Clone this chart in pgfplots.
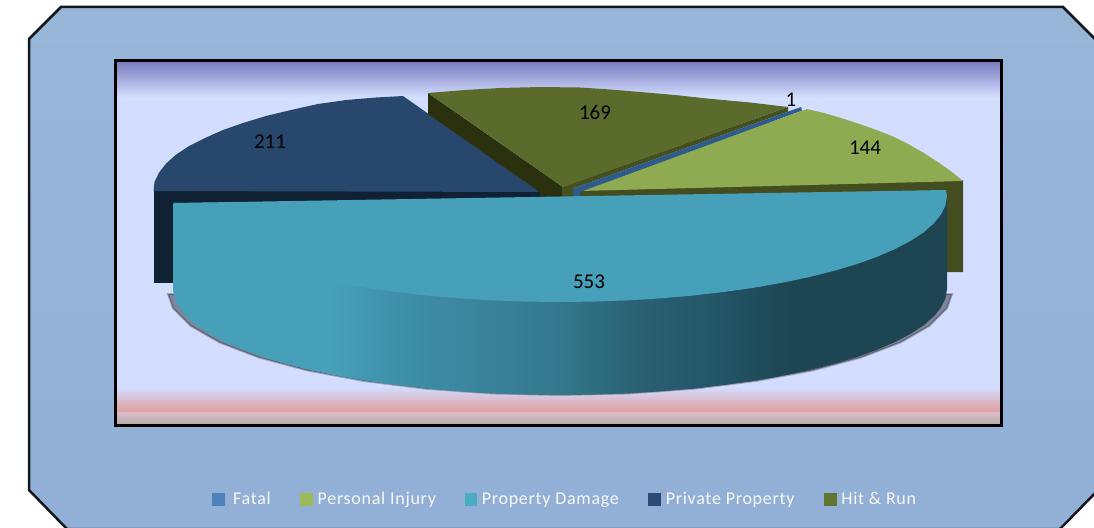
\documentclass[border=0pt]{standalone}
\usepackage{pgfplots}
\pgfplotsset{compat=1.18}
\usepackage{fontspec}
\setmainfont{Carlito}
\newfontfamily\legfont[LetterSpace=4.0]{Carlito}
\definecolor{Panel}{HTML}{95B3D7}
\definecolor{PanelTop}{HTML}{98B6D8}
\definecolor{PanelBot}{HTML}{92AFD6}
\definecolor{Edge}{HTML}{15171F}
\definecolor{Plot}{HTML}{D3DDFF}
\definecolor{PlotTop}{HTML}{7B7CBD}
\definecolor{Red}{HTML}{DF9D9B}
\definecolor{Pink}{HTML}{DBBBCB}
\definecolor{Stone}{HTML}{B0AEA4}
\definecolor{TealTop}{HTML}{47A0B9}
\definecolor{NavyTop}{HTML}{27476D}
\definecolor{NavyWall}{HTML}{0F2133}
\definecolor{OliveTop}{HTML}{5A6B2C}
\definecolor{OliveDark}{HTML}{2B300F}
\definecolor{OliveWall}{HTML}{45501F}
\definecolor{GreenTop}{HTML}{8FAB52}
\definecolor{GreenWall}{HTML}{434D20}
\definecolor{BlueTop}{HTML}{2F5A8C}
\definecolor{W1}{RGB}{62,143,168}
\definecolor{W2}{RGB}{58,132,155}
\definecolor{W3}{RGB}{51,120,140}
\definecolor{W4}{RGB}{42,96,114}
\definecolor{W5}{RGB}{35,85,102}
\definecolor{W6}{RGB}{30,69,82}
\definecolor{W7}{RGB}{29,68,80}
\definecolor{LegFatal}{HTML}{4F81BD}
\definecolor{LegInjury}{HTML}{9BBB59}
\definecolor{LegDamage}{HTML}{4BACC6}
\definecolor{LegPrivate}{HTML}{2A4A75}
\definecolor{LegHit}{HTML}{5F7530}
\pgfdeclarehorizontalshading{wall}{100bp}{
  color(0bp)=(TealTop); color(35bp)=(TealTop);
  color(39.7bp)=(W1); color(44.8bp)=(W2); color(50bp)=(W3);
  color(55.2bp)=(W4); color(60.3bp)=(W5); color(64.9bp)=(W6);
  color(100bp)=(W7)}
\begin{document}
\begin{tikzpicture}
\begin{axis}[
  scale only axis, width=1094pt, height=527pt,
  xmin=0, xmax=1094, ymin=0, ymax=527, y dir=reverse,
  hide axis, no markers,
  legend columns=5,
  legend style={draw=none, fill=none, at={(axis cs:212,501)}, anchor=west,
    inner sep=0pt, font=\legfont\fontsize{18}{20}\selectfont, text=white!92!Panel,
    nodes={inner xsep=5pt, inner ysep=0pt, anchor=base west, text height=11pt, text depth=4pt},
    /tikz/every even column/.append style={column sep=24.5pt}},
  ]
  % page and panel
  \addplot[forget plot, fill=white, draw=none] coordinates {(0,0) (1094,0) (1094,527) (0,527)} --cycle;
  \addplot[forget plot, top color=PanelTop, bottom color=PanelBot, draw=Edge, line width=2.5pt]
    coordinates {(61,7) (1063,7) (1102,46) (1102,486) (1060,529) (67,529) (29,490) (29,39)} --cycle;
  % plot area
  \addplot[forget plot, fill=Plot, draw=none] coordinates {(115,61) (1002,61) (1002,426) (115,426)} --cycle;
  \addplot[forget plot, top color=PlotTop, bottom color=Plot, draw=none]
    coordinates {(115,62) (1002,62) (1002,97) (115,97)} --cycle;
  \addplot[forget plot, top color=Plot, bottom color=Red, draw=none]
    coordinates {(115,387) (1002,387) (1002,412.5) (115,412.5)} --cycle;
  \addplot[forget plot, top color=Pink, bottom color=Stone, draw=none]
    coordinates {(115,412.5) (1002,412.5) (1002,425) (115,425)} --cycle;
  \addplot[forget plot, draw=black, line width=3pt] coordinates {(115.2,61) (1001.5,61) (1001.5,425.5) (115.2,425.5)} --cycle;

  % back walls
  \addplot[forget plot, fill=NavyWall, draw=none] coordinates {(153.5,190) (541,190) (541,283) (153.5,283)} --cycle;
  \addplot[forget plot, fill=GreenWall, draw=none] coordinates {(578,190) (963,180) (963,272) (578,272)} --cycle;

  % navy top
  \addplot[forget plot, fill=NavyTop, draw=none] coordinates {
    (153.5,191) (154.5,182) (159,172.6) (166,163.6) (176,154.7) (189,146) (205,138)
    (223,130) (243,123) (266,116) (291,110) (318,104) (346,100) (376,97.5) (403,96)
    (539.5,192)} --cycle;
  % olive walls and top
  \addplot[forget plot, fill=OliveDark, draw=none] coordinates {(428,93) (563,187) (563,200) (540,200) (540,192.5) (428,114)} --cycle;
  \addplot[forget plot, fill=OliveWall, draw=none] coordinates {(788,107) (788,111.6) (573,188.5) (573,200) (562,200) (562,187)} --cycle;
  \addplot[forget plot, fill=OliveTop, draw=none] coordinates {
    (428,93) (465,90) (500,88) (540,87) (580,87.5) (610,89.5) (640,92) (675,95)
    (707,98.5) (750,102.5) (788,107) (563,187)} --cycle;
  % green top
  \addplot[forget plot, fill=GreenTop, draw=none] coordinates {
    (579.5,191) (807,109) (824,113) (841,118) (858,123.5) (875,129.5) (892,136)
    (908,144) (923,152.5) (937,161.5) (950,170.5) (963,181)} --cycle;
  % fatal sliver
  \addplot[forget plot, fill=BlueTop, draw=none] coordinates {(801,107) (802,110.5) (580,192) (580,200) (573,200) (573,188.5)} --cycle;

  % shadow of the pulled out slice
  \addplot[forget plot, fill=black, draw=black, line width=2pt, fill opacity=0.4, draw opacity=0.25] coordinates {
    (952,294) (947,308.2) (929.3,325.9) (900.3,342.5) (861,357.5) (812.7,370.4)
    (756.5,380.9) (694.4,388.7) (628.2,393.4) (560,395) (491.8,393.4) (425.6,388.7)
    (363.5,380.9) (307.3,370.4) (259,357.5) (219.7,342.5) (190.7,325.9) (173,308.2) (168,294)} --cycle;
  % property damage wall
  \addplot[forget plot, shading=wall, draw=none] coordinates {
    (173.5,203) (173,289) (174.5,298.2) (179,307.4) (186.2,316.4) (196.3,325.3) (209.3,333.8)
    (224.9,342) (243,349.8) (263.5,357.2) (286.4,364) (311.2,370.2) (338,375.8)
    (366.5,380.8) (396.4,385) (427.6,388.6) (459.8,391.4) (492.8,393.4) (526.3,394.6)
    (560,395) (593.7,394.6) (627.2,393.4) (660.2,391.4) (692.4,388.6) (723.6,385)
    (753.5,380.8) (782,375.8) (808.8,370.2) (833.6,364) (856.5,357.2) (877,349.8)
    (895.1,342) (910.7,333.8) (923.7,325.3) (933.8,316.4) (941,307.4) (945.5,298.2)
    (947,289) (947,196)} --cycle;
  % property damage top
  \addplot[forget plot, fill=TealTop, draw=none] coordinates {
    (946,190) (947,196) (945.5,205.2) (941,214.4) (933.8,223.4) (923.7,232.3) (910.7,240.8)
    (895.1,249) (877,256.8) (856.5,264.2) (833.6,271) (808.8,277.2) (782,282.8)
    (753.5,287.8) (723.6,292) (692.4,295.6) (660.2,298.4) (627.2,300.4) (593.7,301.6)
    (560,302) (526.3,301.6) (492.8,300.4) (459.8,298.4) (427.6,295.6) (396.4,292)
    (366.5,287.8) (338,282.8) (311.2,277.2) (286.4,271) (263.5,264.2) (243,256.8)
    (224.9,249) (209.3,240.8) (196.3,232.3) (186.2,223.4) (179,214.4) (174.5,205.2)
    (173.5,203)} --cycle;

  % value labels
  \addplot[forget plot, only marks, mark size=0pt, draw=none, point meta=explicit symbolic,
    nodes near coords, nodes near coords align={center},
    every node near coord/.append style={font=\fontsize{21}{23}\selectfont, text=black}]
    table[meta=v] {
      x y v
      791 100 1
      865 148 144
      589 282 553
      270 142 211
      595 112 169
    };

  \addlegendimage{legend image code/.code={\fill[LegFatal] (0pt,-1pt) rectangle (12pt,11pt);}}
  \addlegendentry{\hspace{3.5pt}Fatal\hspace{4pt}}
  \addlegendimage{legend image code/.code={\fill[LegInjury] (0pt,-1pt) rectangle (12pt,11pt);}}
  \addlegendentry{Personal Injury}
  \addlegendimage{legend image code/.code={\fill[LegDamage] (0pt,-1pt) rectangle (11pt,11pt);}}
  \addlegendentry{Property Damage}
  \addlegendimage{legend image code/.code={\fill[LegPrivate] (0pt,-1pt) rectangle (12pt,11pt);}}
  \addlegendentry{Private Property}
  \addlegendimage{legend image code/.code={\fill[LegHit] (0pt,-1pt) rectangle (12pt,11pt);}}
  \addlegendentry{Hit \& Run}
\end{axis}
\end{tikzpicture}
\end{document}
